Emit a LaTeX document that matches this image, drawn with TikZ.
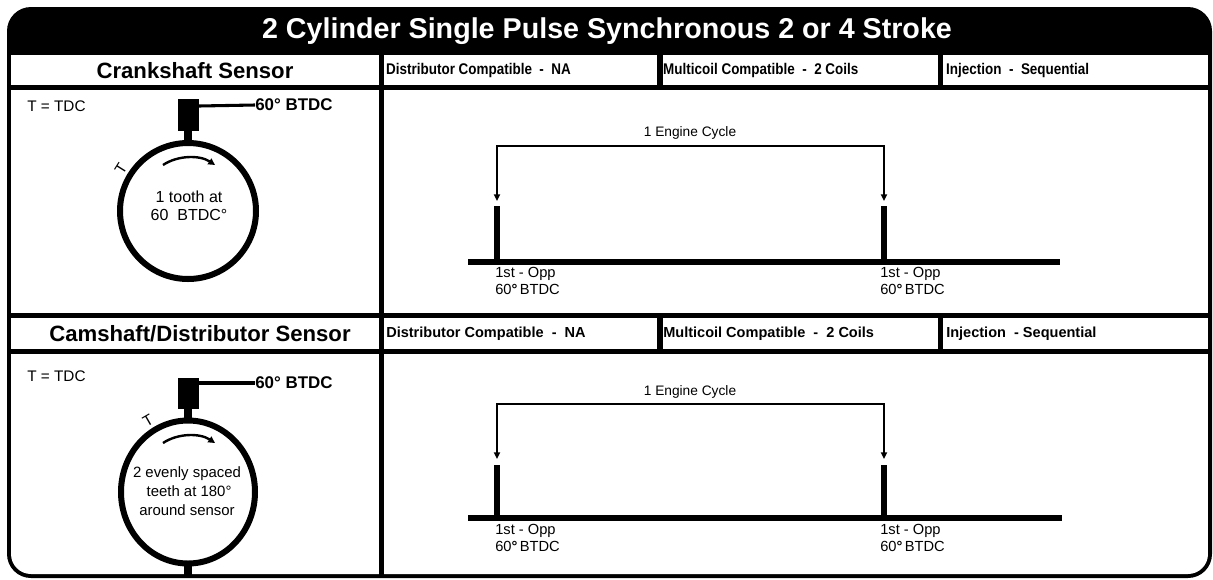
\documentclass[tikz,border=0pt]{standalone}
\usepackage{fontspec}
\setmainfont{Liberation Sans}
\usetikzlibrary{arrows.meta}
\tikzset{
  cell/.style={fill=white},
  hdr/.style={font=\fontsize{16.6}{19}\selectfont\bfseries, text=black},
  info/.style={font=\fontsize{10.9}{13}\selectfont\bfseries, anchor=west, inner sep=0pt},
  infonarrow/.style={info, font=\fontsize{11.6}{13}\selectfont\bfseries, xscale=0.87},
  small/.style={font=\fontsize{11.5}{13}\selectfont, anchor=west, inner sep=0pt},
  btdc/.style={font=\fontsize{12.7}{15}\selectfont\bfseries, anchor=west, inner sep=0pt},
  ring/.style={line width=4.5pt},
  rot/.style={line width=1.8pt, -{Triangle[length=5pt,width=5pt]}},
  circtxt/.style={font=\fontsize{12}{13.5}\selectfont, align=center, inner sep=0pt},
  tlabel/.style={font=\fontsize{11.5}{13}\selectfont, inner sep=0pt},
  brk/.style={line width=1.4pt, {Triangle[length=5pt,width=4.5pt]}-{Triangle[length=5pt,width=4.5pt]}},
  pulse/.style={line width=4pt},
  base/.style={line width=4.5pt},
  cyc/.style={font=\fontsize{10.3}{12}\selectfont, inner sep=0pt},
  lbl/.style={font=\fontsize{11}{12.8}\selectfont, align=left, anchor=north west, inner sep=0pt}
}
\begin{document}
\begin{tikzpicture}[x=0.75pt,y=-0.75pt]
\useasboundingbox (0,0) rectangle (1213,579);
% outer frame
\fill[black, rounded corners=18pt] (7,7) rectangle (1212,578);
\begin{scope}
\clip[rounded corners=15pt] (11,11) rectangle (1208,574);
% row 1 header cells
\fill[cell] (11,55) rectangle (379,85);
\fill[cell] (384,55) rectangle (657,85);
\fill[cell] (663,55) rectangle (938,85);
\fill[cell] (943,55) rectangle (1209,85);
% body 1
\fill[cell] (11,90) rectangle (379,313);
\fill[cell] (384,90) rectangle (1209,313);
% row 2 header cells
\fill[cell] (11,318) rectangle (379,349);
\fill[cell] (384,318) rectangle (657,349);
\fill[cell] (663,318) rectangle (938,349);
\fill[cell] (943,318) rectangle (1209,349);
% body 2
\fill[cell] (11,354) rectangle (379,580);
\fill[cell] (384,354) rectangle (1209,580);
\end{scope}

% title
\node[font=\fontsize{21.5}{26}\selectfont\bfseries, text=white] (title) at (607,31) {2 Cylinder Single Pulse Synchronous 2 or 4 Stroke};

% headers
\node[hdr] (crankhdr) at (195,71) {Crankshaft Sensor};
\node[hdr] (camhdr) at (200,334) {Camshaft/Distributor Sensor};

\node[infonarrow] (d1) at (386,70) {Distributor Compatible\ \ -\ \ NA};
\node[infonarrow] (m1) at (663,70) {Multicoil Compatible\ \ -\ \ 2 Coils};
\node[infonarrow] (i1) at (946,70) {Injection\ \ -\ \ Sequential};
\node[info] (d2) at (386,334) {Distributor Compatible\ \ -\ \ NA};
\node[info] (m2) at (663,334) {Multicoil Compatible\ \ -\ \ 2 Coils};
\node[info] (i2) at (946,334) {Injection\ \ - Sequential};

% ---------- crank sensor drawing ----------
\node[small] (tdc1) at (27,106) {T = TDC};
\fill (178,99) rectangle (199,131);
\fill (184,131) rectangle (192,142);
\coordinate (w1a) at (199,106);
\node[btdc] (b1) at (255,105) {60° BTDC};
\draw[line width=2.3pt] (w1a) -- (b1.west);
\draw[ring] (188,211) circle [radius=68];
\draw[rot] (163,165) .. controls (178,155) and (200,155) .. (215,165);
\node[tlabel, rotate=58] (T1) at (121,169) {T};
\node[circtxt] (c1) at (189,206) {1 tooth at\\60\ \ BTDC°};

% ---------- cam sensor drawing ----------
\node[small] (tdc2) at (27,376) {T = TDC};
\fill (178,378) rectangle (199,409);
\fill (184,409) rectangle (192,420);
\coordinate (w2a) at (199,383);
\node[btdc] (b2) at (255,383) {60° BTDC};
\draw[line width=2.3pt] (w2a) -- (b2.west);
\draw[ring] (188,492) ellipse [x radius=67, y radius=71.5];
\fill (184,563) rectangle (192,575);
\draw[rot] (163,443) .. controls (178,433) and (200,433) .. (215,443);
\node[tlabel, rotate=30] (T2) at (148,421) {T};
\node[circtxt, font=\fontsize{11.2}{14}\selectfont] (c2) at (187,491) {2 evenly spaced\\\ teeth at 180°\\around sensor};

% ---------- crank timing ----------
\node[cyc] (ec1) at (690,133) {1 Engine Cycle};
\coordinate (t1) at (690,146);
\coordinate (a1l) at (497,201);
\coordinate (a1r) at (884,201);
\draw[brk] (a1l) |- (t1) -| (a1r);
\coordinate (s1l) at (468,262);
\coordinate (s1r) at (1060,262);
\draw[base] (s1l) -- (s1r);
\coordinate (p1l) at (497,206);
\coordinate (p1r) at (884,206);
\draw[pulse] (p1l) -- (p1l |- s1l);
\draw[pulse] (p1r) -- (p1r |- s1l);
\node[lbl] (l1l) at (495,267) {1st - Opp\\60\textbf{°}\,BTDC};
\node[lbl] (l1r) at (880,267) {1st - Opp\\60\textbf{°}\,BTDC};

% ---------- cam timing ----------
\node[cyc] (ec2) at (690,392) {1 Engine Cycle};
\coordinate (t2) at (690,404);
\coordinate (a2l) at (497,459);
\coordinate (a2r) at (884,459);
\draw[brk] (a2l) |- (t2) -| (a2r);
\coordinate (s2l) at (468,518);
\coordinate (s2r) at (1062,518);
\draw[base] (s2l) -- (s2r);
\coordinate (p2l) at (497,465);
\coordinate (p2r) at (884,465);
\draw[pulse] (p2l) -- (p2l |- s2l);
\draw[pulse] (p2r) -- (p2r |- s2l);
\node[lbl] (l2l) at (495,524) {1st - Opp\\60\textbf{°}\,BTDC};
\node[lbl] (l2r) at (880,524) {1st - Opp\\60\textbf{°}\,BTDC};
\end{tikzpicture}
\end{document}
